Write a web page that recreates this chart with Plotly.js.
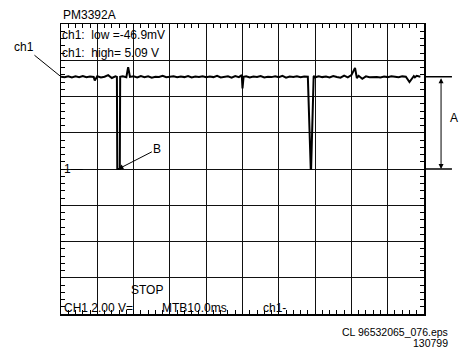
<!DOCTYPE html>
<html>
<head>
<meta charset="utf-8">
<script src="https://cdn.plot.ly/plotly-3.0.1.min.js"></script>
<style>html,body{margin:0;padding:0;background:#fff;}#chart{width:460px;height:354px;}</style>
</head>
<body>
<div id="chart"></div>
<script>
// Time axis (ms, 10 ms/div) and channel 1 voltage (V, 2 V/div)
const timeMs = [0,1,2,3,4,5,6,7,8,9,9.3,10,11,12,13,14,15,15.4,15.5,16.2,16.3,17,18,18.5,19,20,21,22,23,24,25,26,27,28,29,30,31,32,33,34,35,36,37,38,39,40,41,42,43,44,45,46,47,48,49,49.8,50,50.3,51,52,53,54,55,56,57,58,59,60,61,62,63,64,65,66,67,68,68.8,68.9,69.6,69.7,70,71,72,73,74,75,76,77,78,79,80,81,81.5,82,83,84,85,86,87,88,89,90,91,92,93,94,95,96,97,97.2,97.5,98,99,100];
const volts  = [5.09,5.06,5.12,5.05,5.11,5.07,5.13,5.06,5.10,5.08,4.88,5.12,5.05,5.09,5.18,5.02,5.11,5.08,0.0,0.0,5.09,5.12,5.06,5.62,5.08,5.11,5.05,5.13,5.07,5.12,5.04,5.09,5.08,5.14,5.06,5.09,5.11,5.06,5.10,5.07,5.13,5.05,5.10,5.08,5.12,5.06,5.10,5.07,5.14,5.05,5.09,5.11,5.04,5.13,5.07,5.18,4.45,5.09,5.12,5.05,5.10,5.08,5.13,5.05,5.09,5.07,5.12,5.06,5.14,5.04,5.10,5.08,5.12,5.06,5.10,5.09,0.0,0.0,5.09,5.11,5.06,5.12,5.07,5.10,5.05,5.13,5.08,5.04,5.15,5.06,5.18,5.58,5.02,5.14,4.98,5.11,5.06,5.09,5.08,5.05,5.10,5.07,5.12,5.09,5.06,5.11,5.09,4.80,5.08,5.13,5.06,5.14,5.09];

// Readouts and labels
const titleText = "PM3392A";
const lowText = "ch1:&nbsp; low =-46.9mV";
const highText = "ch1:&nbsp; high= 5.09 V";
const stopText = "STOP";
const ch1ScaleText = "CH1 2.00 V=";
const mtbText = "MTB10.0ms";
const ch1TrigText = "ch1-";
const fileText = "CL 96532065_076.eps";
const dateText = "130799";
const highLevel = 5.09;
const groundLevel = 0;
const dipTime = 15.8;

const FONT = '"Liberation Sans", Arial, Helvetica, sans-serif';
const txt = (text, x, y, opts) => Object.assign({
  text: text, x: x, y: y, xref: 'paper', yref: 'paper', showarrow: false,
  xanchor: 'left', yanchor: 'middle', font: {family: FONT, size: 12, color: '#000'}
}, opts || {});

const trace = {
  x: timeMs, y: volts, type: 'scatter', mode: 'lines',
  line: {color: '#000', width: 2}, hoverinfo: 'skip'
};

const axisCommon = {
  showticklabels: false, zeroline: false, showgrid: true,
  gridcolor: '#111', gridwidth: 1,
  showline: true, linecolor: '#000', linewidth: 1.5, mirror: 'allticks',
  ticks: 'inside', ticklen: 4, tickcolor: '#000', tickwidth: 1, fixedrange: true
};

const layout = {
  width: 460, height: 354,
  margin: {l: 61, r: 36, t: 24, b: 40, pad: 0},
  paper_bgcolor: '#fff', plot_bgcolor: '#fff',
  showlegend: false,
  xaxis: Object.assign({}, axisCommon, {range: [0, 100], dtick: 10, tick0: 0,
    minor: {dtick: 2, tick0: 0, ticks: 'inside', ticklen: 4, tickcolor: '#000', tickwidth: 1, showgrid: false}}),
  yaxis: Object.assign({}, axisCommon, {range: [-8, 8], dtick: 2, tick0: 0,
    minor: {dtick: 0.4, tick0: 0, ticks: 'inside', ticklen: 4, tickcolor: '#000', tickwidth: 1, showgrid: false}}),
  shapes: [
    {type: 'line', xref: 'paper', yref: 'y', x0: 1, x1: 1.077, y0: highLevel, y1: highLevel, line: {color: '#000', width: 1.5}},
    {type: 'line', xref: 'paper', yref: 'y', x0: 1, x1: 1.077, y0: groundLevel, y1: groundLevel, line: {color: '#000', width: 1.5}}
  ],
  annotations: [
    txt(titleText, 0.0, 1.031),
    txt(lowText, -0.003, 0.962),
    txt(highText, -0.003, 0.900),
    txt(stopText, 0.188, 0.083),
    txt(ch1ScaleText, 0.002, 0.021),
    txt(mtbText, 0.272, 0.021),
    txt(ch1TrigText, 0.552, 0.021),
    txt(fileText, 1.072, -0.062, {xanchor: 'right', font: {family: FONT, size: 10.5, color: '#000'}}),
    txt(dateText, 1.072, -0.100, {xanchor: 'right', font: {family: FONT, size: 10.5, color: '#000'}}),
    txt('1—', 0.003, groundLevel, {yref: 'y'}),
    txt('A', 1.083, 0.676, {xanchor: 'center'}),
    // ch1 marker line
    {text: 'ch1', x: 0, y: highLevel, xref: 'x', yref: 'y', showarrow: true, arrowhead: 0,
     arrowwidth: 1, arrowcolor: '#000', ax: -37, ay: -30, font: {family: FONT, size: 12, color: '#000'}},
    // B arrow
    {text: 'B', x: dipTime, y: groundLevel, xref: 'x', yref: 'y', showarrow: true, arrowhead: 2,
     arrowsize: 1, arrowwidth: 1, arrowcolor: '#000', ax: 39, ay: -20, standoff: 0,
     font: {family: FONT, size: 12, color: '#000'}},
    // A double arrow
    {text: '', x: 1.047, y: groundLevel, xref: 'paper', yref: 'y', showarrow: true,
     axref: 'pixel', ayref: 'y', ax: 0, ay: highLevel, arrowhead: 2, startarrowhead: 2,
     arrowside: 'end+start', arrowsize: 1, arrowwidth: 1, arrowcolor: '#000'}
  ]
};

Plotly.newPlot('chart', [trace], layout, {staticPlot: true, displayModeBar: false});
</script>
</body>
</html>
